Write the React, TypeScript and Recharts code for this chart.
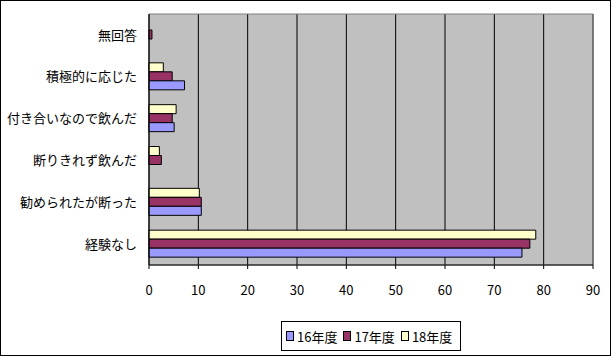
import { Bar, BarChart, CartesianGrid, ReferenceArea, XAxis, YAxis } from 'recharts';

const categories = ['無回答', '積極的に応じた', '付き合いなので飲んだ', '断りきれず飲んだ', '勧められたが断った', '経験なし'];
const fy16 = [0, 7.2, 5.1, 0, 10.6, 75.6];
const fy17 = [0.6, 4.7, 4.7, 2.5, 10.6, 77.2];
const fy18 = [0, 2.9, 5.5, 2.1, 10.2, 78.4];
const xTicks = [0, 10, 20, 30, 40, 50, 60, 70, 80, 90];

const series = [
  { key: 'fy16', name: '16年度', color: '#9999FF' },
  { key: 'fy17', name: '17年度', color: '#993366' },
  { key: 'fy18', name: '18年度', color: '#FFFFCC' },
];

const data = categories.map((name, i) => ({ name, fy16: fy16[i], fy17: fy17[i], fy18: fy18[i] }));

const font = '"Noto Sans CJK JP", "Noto Sans", sans-serif';

export default function App() {
  // Excel draws the last series on top inside each group, so bars go 18 -> 16
  const drawOrder = [...series].reverse();
  return (
    <div style={{ position: 'absolute', left: 0, top: 0, width: 611, height: 356, background: '#fff', fontFamily: font }}>
      <BarChart
        width={611}
        height={356}
        data={data}
        layout="vertical"
        barSize={9}
        barGap={0}
        margin={{ top: 14, right: 18, bottom: 0, left: 0 }}
      >
        <CartesianGrid horizontal={false} stroke="#000" fill="#C0C0C0" fillOpacity={1} />
        <XAxis
          type="number"
          domain={[0, 90]}
          ticks={xTicks}
          interval={0}
          height={91}
          axisLine={{ stroke: '#000' }}
          tickLine={{ stroke: '#000' }}
          tickSize={4}
          tickMargin={17}
          tick={{ fill: '#000', fontSize: 13, fontFamily: font }}
        />
        <YAxis
          type="category"
          dataKey="name"
          width={149}
          axisLine={{ stroke: '#000' }}
          tickLine={false}
          tickSize={0}
          tickMargin={12}
          tick={{ fill: '#000', fontSize: 13, fontFamily: font }}
        />
        <ReferenceArea x1={0} x2={90} fill="none" stroke="#808080" strokeWidth={1} ifOverflow="visible" />
        {drawOrder.map((s) => (
          <Bar
            key={s.key}
            dataKey={s.key}
            name={s.name}
            fill={s.color}
            stroke="#000"
            strokeWidth={1}
            isAnimationActive={false}
          />
        ))}
      </BarChart>
      <div
        style={{
          position: 'absolute',
          left: 281,
          top: 321,
          width: 180,
          height: 30,
          boxSizing: 'border-box',
          border: '1px solid #000',
          display: 'flex',
          alignItems: 'center',
          paddingLeft: 4,
          fontSize: 13,
          color: '#000',
          whiteSpace: 'nowrap',
        }}
      >
        {series.map((s) => (
          <span key={s.key} style={{ display: 'flex', alignItems: 'center', flexShrink: 0, marginRight: 6 }}>
            <span
              style={{
                display: 'inline-block',
                width: 6,
                height: 8,
                background: s.color,
                border: '1px solid #000',
                marginRight: 3,
              }}
            />
            {s.name}
          </span>
        ))}
      </div>
      <div
        style={{
          position: 'absolute',
          left: 0,
          top: 0,
          width: 611,
          height: 356,
          boxSizing: 'border-box',
          border: '1px solid #000',
          pointerEvents: 'none',
        }}
      />
    </div>
  );
}
